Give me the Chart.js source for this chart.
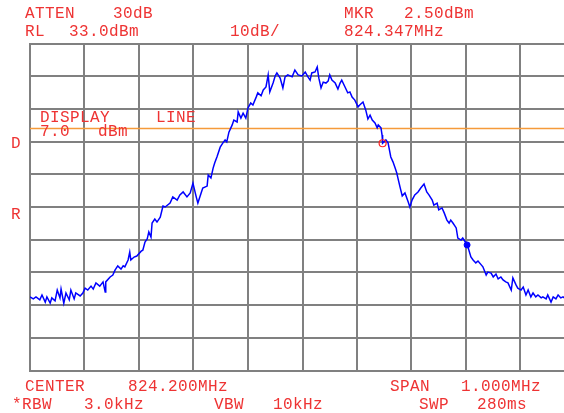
<!DOCTYPE html>
<html>
<head>
<meta charset="utf-8">
<script src="https://cdn.jsdelivr.net/npm/chart.js@4.4.0/dist/chart.umd.min.js"></script>
<style>
  html, body { margin: 0; padding: 0; overflow: hidden; background: #fff; }
  #grafica { display: block; }
</style>
</head>
<body>
<canvas id="grafica" width="600" height="413"></canvas>
<script>
const startMHz = 823.7;
const stopMHz = 824.7;
const refLevel = 33;
const bottomLevel = -67;
const dbPorDiv = 10;
const lineaDisplay = 7.0;

const freqMHz = [
  823.700, 823.706, 823.711, 823.718, 823.722, 823.728, 823.731, 823.737, 823.740, 823.746,
  823.750, 823.755, 823.757, 823.762, 823.766, 823.772, 823.775, 823.781, 823.784, 823.792,
  823.797, 823.801, 823.806, 823.812, 823.816, 823.821, 823.828, 823.834, 823.838, 823.839,
  823.847, 823.852, 823.856, 823.861, 823.867, 823.871, 823.874, 823.880, 823.883, 823.885,
  823.891, 823.896, 823.904, 823.907, 823.911, 823.915, 823.918, 823.922, 823.924, 823.929,
  823.933, 823.939, 823.944,
  823.948, 823.957, 823.962, 823.970, 823.975, 823.981, 823.988, 823.994, 823.999, 824.005,
  824.008, 824.014, 824.017, 824.025, 824.027, 824.032, 824.036, 824.039, 824.043, 824.049,
  824.054, 824.058, 824.061, 824.065, 824.071, 824.074, 824.080, 824.082, 824.087, 824.091,
  824.096, 824.100, 824.105, 824.109, 824.115, 824.118, 824.124, 824.128, 824.133, 824.137,
  824.140, 824.146, 824.150, 824.153, 824.159, 824.164, 824.168, 824.173, 824.181, 824.186,
  824.192, 824.199, 824.205, 824.210, 824.214, 824.217, 824.223, 824.227, 824.230, 824.234,
  824.238, 824.243, 824.247, 824.250, 824.254, 824.260, 824.265, 824.269, 824.272, 824.278,
  824.283, 824.287, 824.291, 824.296, 824.302, 824.305, 824.311, 824.316, 824.320, 824.324,
  824.328, 824.333, 824.337, 824.339, 824.344, 824.346, 824.347, 824.353, 824.357, 824.362,
  824.366, 824.370, 824.373, 824.375, 824.379, 824.383, 824.388, 824.394, 824.397, 824.401,
  824.406, 824.412, 824.417, 824.423, 824.428, 824.432, 824.438,
  824.441, 824.447, 824.450, 824.456, 824.460, 824.465, 824.469, 824.472, 824.476, 824.482,
  824.485, 824.491, 824.494, 824.500, 824.504, 824.509, 824.513, 824.518, 824.522, 824.528,
  824.531, 824.537, 824.540, 824.546, 824.550, 824.555, 824.559, 824.564, 824.568, 824.573,
  824.577, 824.583, 824.586, 824.592, 824.595, 824.601, 824.605, 824.610, 824.614, 824.619,
  824.623, 824.628, 824.632, 824.638, 824.641, 824.647, 824.650, 824.656, 824.660, 824.665,
  824.669, 824.674, 824.678, 824.683, 824.691, 824.700
];

const nivelDbm = [
  -44.5, -45.1, -44.5, -45.4, -43.9, -46.1, -44.5, -46.4, -44.8, -45.7,
  -42.4, -44.8, -42.1, -46.4, -43.3, -45.4, -42.4, -45.1, -43.3, -44.2,
  -43.3, -41.8, -42.4, -41.2, -42.1, -40.2, -41.2, -39.9, -43.0, -39.9,
  -38.4, -37.8, -36.3, -35.0, -36.0, -35.0, -35.3, -33.2, -30.8, -33.2,
  -32.3, -32.0, -30.5, -30.2, -27.7, -26.8, -24.6, -26.2, -21.9, -20.7,
  -21.6, -20.1, -16.7,
  -17.0, -15.8, -13.9, -14.9, -13.3, -12.4, -13.9, -12.7, -9.7, -13.9,
  -15.8, -12.7, -11.2, -10.6, -7.2, -8.1, -5.1, -3.5, -1.7, 1.3,
  2.6, 3.5, 2.9, 5.9, 8.1, 9.6, 9.0, 12.1, 10.2, 11.7,
  10.2, 13.3, 14.8, 14.2, 16.6, 17.9, 17.0, 18.8, 19.7, 23.4,
  18.2, 20.9, 23.1, 24.0, 22.4, 19.4, 22.8, 23.4, 22.8, 24.9,
  23.4, 23.1, 24.3, 22.8, 21.8, 24.0, 24.3, 25.8, 22.4, 19.4,
  21.2, 20.9, 21.5, 23.4, 21.8, 20.9, 19.1, 20.9, 21.8, 19.7,
  17.9, 18.2, 16.6, 15.7, 13.6, 14.2, 15.1, 12.7, 9.9, 11.1,
  9.6, 8.7, 7.2, 8.1, 7.2, 5.0, 2.5, 3.5, 2.6, -1.7,
  -3.2, -5.1, -6.6, -8.1, -10.9, -13.6, -12.7, -15.5, -17.0, -14.9,
  -13.3, -12.4, -11.2, -10.0, -12.4, -13.3, -14.9,
  -16.4, -15.8, -17.9, -17.3, -18.8, -21.0, -21.9, -21.0, -21.9, -23.4,
  -26.5, -27.1, -26.5, -28.0, -29.5, -32.3, -33.2, -34.1, -33.5, -34.7,
  -35.3, -37.8, -36.9, -37.2, -38.4, -37.5, -39.0, -38.4, -39.3, -39.9,
  -40.2, -42.4, -38.7, -40.9, -41.8, -42.4, -41.5, -43.9, -42.4, -44.5,
  -43.3, -44.5, -43.9, -44.8, -44.5, -45.1, -43.9, -46.1, -44.5, -45.1,
  -43.9, -44.8, -44.5, -45.1, -44.5, -44.8
];

const mkrFreq = [824.347];
const mkrNivel = [2.5];
const puntoFreq = [824.502];
const puntoNivel = [-28.6];

// textos de la pantalla: [texto, x, y base]
const textosArriba = [
  ["ATTEN", 25, 18], ["30dB", 113, 18], ["MKR", 344, 18], ["2.50dBm", 404, 18],
  ["RL", 25, 36], ["33.0dBm", 69, 36], ["10dB/", 230, 36], ["824.347MHz", 344, 36]
];
const textosAbajo = [
  ["CENTER", 25, 391], ["824.200MHz", 128, 391], ["SPAN", 390, 391], ["1.000MHz", 461, 391],
  ["*RBW", 12, 409], ["3.0kHz", 84, 409], ["VBW", 214, 409], ["10kHz", 273, 409],
  ["SWP", 419, 409], ["280ms", 477, 409]
];
const textosDentro = [
  ["DISPLAY", 40, 122], ["LINE", 156, 122], ["7.0", 40, 136], ["dBm", 98, 136],
  ["D", 11, 148], ["R", 11, 219]
];

const traza = freqMHz.map((f, i) => ({ x: f, y: nivelDbm[i] }));
const marcador = mkrFreq.map((f, i) => ({ x: f, y: mkrNivel[i] }));
const punto = puntoFreq.map((f, i) => ({ x: f, y: puntoNivel[i] }));

const textoPlugin = {
  id: "textos",
  afterDraw(chart) {
    const ctx = chart.ctx;
    ctx.save();
    ctx.fillStyle = "#ee3333";
    ctx.font = "16px 'Liberation Mono', monospace";
    if ("letterSpacing" in ctx) ctx.letterSpacing = "0.4px";
    ctx.textAlign = "left";
    ctx.textBaseline = "alphabetic";
    [...textosArriba, ...textosAbajo, ...textosDentro].forEach(t => {
      ctx.fillText(t[0], t[1], t[2]);
    });
    ctx.restore();
  }
};

const fondoPlugin = {
  id: "fondo",
  beforeDraw(chart) {
    const ctx = chart.ctx;
    ctx.save();
    ctx.fillStyle = "#ffffff";
    ctx.fillRect(0, 0, chart.width, chart.height);
    ctx.restore();
  }
};

const rejilla = { color: "#808080", lineWidth: 2, drawTicks: false };

new Chart(document.getElementById("grafica"), {
  type: "line",
  data: {
    datasets: [
      {
        data: traza,
        borderColor: "#0000ff",
        borderWidth: 1.5,
        pointRadius: 0,
        tension: 0,
        order: 2
      },
      {
        data: [{ x: startMHz, y: lineaDisplay }, { x: stopMHz, y: lineaDisplay }],
        borderColor: "#f59a3a",
        borderWidth: 1.5,
        pointRadius: 0,
        order: 3
      },
      {
        data: marcador,
        showLine: false,
        pointRadius: 3.5,
        pointBorderColor: "#ff2020",
        pointBackgroundColor: "rgba(0,0,0,0)",
        pointBorderWidth: 1.2,
        order: 1
      },
      {
        data: punto,
        showLine: false,
        pointRadius: 3,
        pointBorderColor: "#0000ff",
        pointBackgroundColor: "#0000ff",
        order: 1
      }
    ]
  },
  options: {
    responsive: false,
    animation: false,
    layout: { padding: { left: 30, right: 25, top: 43.5, bottom: 42.5 } },
    plugins: { legend: { display: false }, tooltip: { enabled: false } },
    scales: {
      x: {
        type: "linear",
        min: startMHz,
        max: stopMHz,
        ticks: { display: false, stepSize: 0.1 },
        grid: rejilla,
        border: { display: true, color: "#808080", width: 2 }
      },
      y: {
        type: "linear",
        min: bottomLevel,
        max: refLevel,
        ticks: { display: false, stepSize: dbPorDiv },
        grid: rejilla,
        border: { display: true, color: "#808080", width: 2 }
      }
    }
  },
  plugins: [fondoPlugin, textoPlugin]
});
</script>
</body>
</html>
